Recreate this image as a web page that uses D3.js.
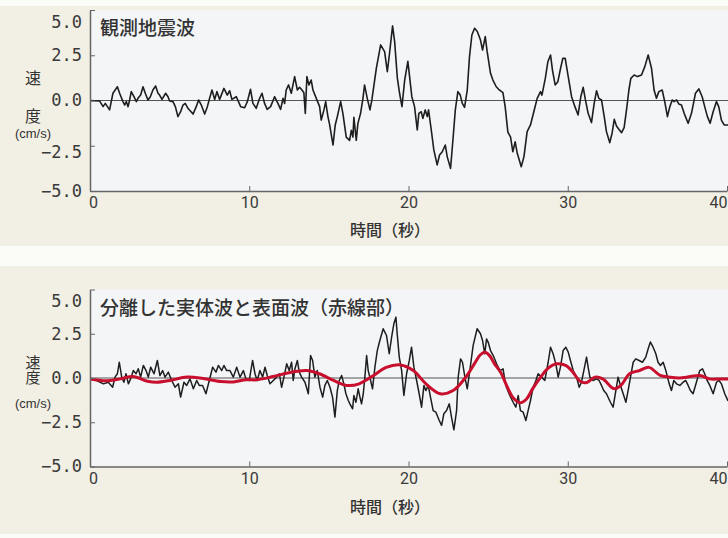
<!DOCTYPE html>
<html><head><meta charset="utf-8">
<script src="https://cdn.jsdelivr.net/npm/d3@7/dist/d3.min.js"></script>
<style>html,body{margin:0;padding:0;background:#fbfbf8}svg{display:block}</style>
</head><body>
<svg id="chart" width="728" height="538"></svg>
<script>
// ---------- data ----------
const xTicks = [0, 10, 20, 30, 40];
const yTicks = [5.0, 2.5, 0.0, -2.5, -5.0];
const titleTop = "観測地震波";
const titleBottom = "分離した実体波と表面波（赤線部）";
const xTitle = "時間（秒）";
const yTitle = "速度";
const yUnit = "(cm/s)";

// observed seismic wave (top panel)
const obsTime = [0,0.61,0.82,0.96,1.23,1.44,1.72,1.86,2.07,2.18,2.28,2.39,2.49,2.59,2.76,2.91,3.01,3.18,3.33,3.47,3.64,3.79,3.95,4.12,4.27,4.37,4.52,4.75,4.90,5.00,5.21,5.36,5.52,5.69,5.84,5.98,6.15,6.47,6.67,6.82,6.99,7.20,7.37,7.51,7.66,7.83,7.97,8.14,8.41,8.62,8.77,8.91,9.19,9.46,9.71,9.88,10.08,10.23,10.44,10.65,10.80,10.96,11.13,11.34,11.59,11.80,11.97,12.12,12.22,12.32,12.47,12.64,12.85,13.02,13.16,13.31,13.43,13.52,13.62,13.75,13.89,14.00,14.21,14.42,14.52,14.69,14.80,14.94,15.05,15.26,15.40,15.53,15.74,15.88,16.09,16.30,16.41,16.51,16.57,16.72,16.82,16.99,17.14,17.24,17.41,17.58,17.70,17.98,18.25,18.50,18.67,18.81,19.00,19.13,19.30,19.44,19.59,19.76,19.96,20.07,20.21,20.38,20.55,20.65,20.80,20.90,21.05,21.18,21.26,21.43,21.59,21.80,21.95,22.12,22.31,22.43,22.64,22.79,22.94,23.10,23.25,23.38,23.52,23.69,23.83,23.98,24.15,24.32,24.52,24.65,24.82,24.94,25.15,25.30,25.51,25.66,25.93,26.07,26.24,26.41,26.55,26.70,26.83,27.08,27.25,27.45,27.66,27.87,28.08,28.29,28.38,28.59,28.75,28.92,29.04,29.21,29.38,29.55,29.69,29.84,30.03,30.24,30.45,30.65,30.82,30.97,31.11,31.28,31.49,31.66,31.81,31.95,32.12,32.29,32.43,32.64,32.79,32.92,33.06,33.21,33.38,33.54,33.69,33.84,33.96,34.17,34.38,34.63,34.84,35.05,35.26,35.42,35.57,35.72,35.93,36.09,36.26,36.41,36.56,36.68,36.83,36.97,37.14,37.31,37.56,37.77,38.02,38.23,38.44,38.60,38.77,38.94,39.13,39.34,39.48,39.65,39.82,40.05];
const obsVel = [0,-0.03,-0.34,-0.16,-0.52,0.40,0.76,0.40,-0.06,-0.25,-0.06,-0.34,0.03,0.49,0.21,-0.06,0.12,0.30,0.76,0.40,0.03,0.21,0.58,0.80,0.40,0.30,0.06,0.40,0.21,-0.03,-0.06,-0.34,-0.89,-0.62,-0.25,-0.16,-0.43,-0.75,-0.34,0.03,-0.25,-0.75,-0.34,0.12,0.58,0.06,0.49,0.06,0.67,0.30,0.54,0.06,0.21,-0.34,-0.40,-0.06,0.62,-0.16,-0.43,0.12,0.40,-0.16,-0.49,-0.34,0.21,-0.16,-0.49,0.12,-0.16,0.58,0.86,0.40,1.32,0.58,0.73,0.58,0.43,-0.71,1.32,0.86,1.13,0.58,0.12,-0.34,-1.08,-0.52,-0.06,-0.89,-1.35,-2.46,-1.35,-0.89,-0.06,-0.71,-2.02,-2.20,-1.65,-2.02,-0.93,-2.20,-1.28,-0.71,0.12,0.86,0.12,-0.52,0.03,1.77,3.07,2.70,1.59,2.61,4.12,3.25,1.23,0.40,-0.34,1.13,2.16,1.31,0.21,-0.34,-1.63,-0.71,-0.62,-0.99,-0.52,-0.89,-0.52,-1.63,-2.73,-3.56,-3.01,-2.83,-2.46,-3.10,-3.75,-2.18,-0.52,0.49,0.30,-0.16,-0.38,0.58,2.42,3.62,3.99,3.81,3.34,2.79,3.53,2.70,1.50,1.13,0.76,0.62,0.43,-0.34,-1.75,-2.02,-2.83,-2.28,-2.92,-3.66,-3.10,-1.72,-1.35,-0.62,0.12,0.49,0.30,1.22,2.14,2.51,1.68,0.86,1.04,1.78,2.33,2.33,1.32,0.21,-0.34,-0.80,0.21,0.73,0.03,-0.71,-1.22,-0.16,0.54,0.12,0.03,-0.89,-1.72,-2.33,-1.78,-1.04,-1.41,-1.59,-1.78,-1.50,-0.52,0.58,1.22,1.41,1.32,1.41,1.87,2.51,1.78,0.58,0.12,0.49,0.58,-0.06,-0.89,-0.34,0.03,-0.06,0.03,-0.19,-0.25,-0.71,-1.26,-0.71,0.40,0.64,0.21,-0.34,-0.89,-1.26,-0.62,-0.06,-0.34,-1.08,-1.35,-1.35];

// separated body wave (bottom panel, black)
const bodyTime = [0,0.42,0.84,1.15,1.42,1.57,1.72,1.84,1.99,2.13,2.26,2.41,2.55,2.72,2.89,3.03,3.18,3.35,3.52,3.66,3.81,4.02,4.23,4.39,4.56,4.71,4.92,5.13,5.34,5.55,5.69,5.90,6.07,6.28,6.49,6.70,6.86,7.07,7.28,7.49,7.70,7.91,8.06,8.27,8.41,8.58,8.79,9.00,9.21,9.42,9.63,9.79,10.00,10.21,10.36,10.50,10.67,10.84,10.99,11.13,11.30,11.51,11.72,11.89,12.03,12.18,12.35,12.51,12.66,12.76,12.87,13.02,13.14,13.29,13.50,13.71,13.85,13.98,14.12,14.27,14.44,14.61,14.75,14.90,15.07,15.23,15.38,15.53,15.65,15.80,15.94,16.07,16.22,16.32,16.49,16.57,16.70,16.84,16.95,17.05,17.16,17.26,17.37,17.47,17.62,17.74,17.89,18.04,18.20,18.41,18.62,18.79,18.94,19.08,19.21,19.29,19.42,19.57,19.71,19.88,20.05,20.19,20.34,20.51,20.67,20.82,20.97,21.09,21.24,21.38,21.55,21.72,21.93,22.08,22.22,22.39,22.56,22.70,22.85,23.02,23.12,23.27,23.39,23.54,23.69,23.85,24.06,24.31,24.52,24.65,24.79,24.90,25.00,25.15,25.32,25.53,25.74,25.94,26.05,26.15,26.36,26.57,26.74,26.89,27.03,27.20,27.37,27.51,27.66,27.83,28.00,28.14,28.35,28.56,28.77,28.92,29.08,29.25,29.40,29.54,29.71,29.88,30.03,30.17,30.34,30.55,30.72,30.86,31.01,31.18,31.28,31.39,31.59,31.80,31.97,32.12,32.26,32.43,32.68,32.85,33.02,33.16,33.31,33.48,33.65,33.79,33.94,34.11,34.27,34.48,34.69,34.90,35.05,35.19,35.36,35.53,35.67,35.82,35.99,36.16,36.37,36.51,36.66,36.83,37.04,37.24,37.41,37.56,37.70,37.87,38.08,38.29,38.46,38.60,38.75,38.92,39.13,39.34,39.50,39.65,39.86,40.05];
const bodyVel = [-0.05,-0.14,-0.33,-0.24,-0.52,0.05,0.24,0.89,0.05,-0.24,0.24,-0.33,-0.05,0.42,0.24,0.52,0.05,0.71,0.42,0.05,0.61,0.24,0.99,0.14,0.42,0.05,0.33,-0.14,-0.52,-0.33,-1.08,-0.24,-0.42,-0.05,-0.61,-0.14,-0.42,-0.42,-0.89,-0.14,0.61,0.33,0.71,0.42,0.71,0.42,0.42,0.05,0.61,0.05,0.42,-0.05,-0.14,0.99,0.24,-0.14,0.42,0.05,0.61,0.14,-0.33,-0.14,0.05,0.24,-0.52,0.05,0.80,0.42,0.89,-0.14,0.52,0.99,0.33,0.05,-0.24,-0.89,1.27,0.99,0.05,0.42,-0.52,-1.08,-0.42,-0.14,-0.52,-1.08,-2.21,-0.71,-0.14,0.14,-0.33,-0.89,-1.27,-1.46,-1.74,-0.99,-1.37,-0.61,-1.08,-1.46,-0.89,0.05,1.27,0.42,-0.14,-0.61,0.61,1.55,2.12,2.78,2.40,1.37,2.31,3.06,3.44,2.50,1.18,0.42,-0.99,0.24,0.99,1.74,0.61,-0.14,-0.89,-1.65,-0.42,-0.71,-0.42,-1.08,-1.84,-1.93,-2.40,-2.68,-2.02,-1.84,-1.46,-2.21,-2.93,-1.84,0.05,1.08,0.89,0.05,-0.61,0.42,1.84,2.78,2.50,2.12,1.37,2.21,2.03,1.55,1.27,0.80,0.42,0.52,-0.14,-0.52,-0.99,-1.37,-1.65,-0.99,-1.84,-1.93,-2.40,-1.84,-1.27,-0.52,-0.14,0.24,0.05,-0.14,0.89,1.74,1.37,0.80,0.05,0.61,1.55,1.74,1.46,0.99,0.42,0.05,-0.52,-0.24,0.42,1.18,0.61,0.05,-0.14,-0.05,-0.14,-0.42,-0.71,-0.89,-1.37,-1.65,-0.71,0.05,-0.42,-0.89,-1.37,-0.71,0.05,0.89,1.08,0.99,0.89,1.18,1.65,2.03,1.74,1.37,0.89,0.71,0.89,0.42,-0.33,-0.71,-0.14,-0.33,-0.42,-0.24,-0.14,-0.42,-0.71,-0.89,-0.24,0.42,0.52,0.24,-0.14,-0.42,-0.89,-0.24,-0.14,-0.33,-0.89,-1.27];

// separated surface wave (bottom panel, red)
const surfTime = [0,1.0,1.9,2.7,3.6,4.2,5.0,6.1,7.1,8.2,9.0,9.8,10.5,11.5,12.5,13.6,14.4,15.3,16.1,16.9,17.8,18.6,19.5,20.3,21.1,22.0,22.8,23.6,24.2,24.5,24.8,25.1,25.4,25.8,26.2,26.6,27.0,27.4,27.8,28.3,28.7,29.3,29.9,30.3,30.8,31.2,31.7,32.2,32.9,33.3,33.9,34.5,35.1,35.8,36.4,37.0,37.7,38.3,38.9,39.6,40.05];
const surfVel = [-0.05,-0.15,-0.05,0.08,-0.18,-0.24,-0.14,0.05,-0.03,-0.20,-0.22,-0.10,-0.10,0.08,0.30,0.42,0.24,-0.14,-0.42,-0.33,0.14,0.60,0.74,0.42,-0.33,-0.89,-0.71,0.05,0.90,1.30,1.45,1.25,0.80,0.30,-0.50,-1.15,-1.40,-1.20,-0.60,0.05,0.50,0.80,0.70,0.35,-0.20,-0.25,0.05,-0.05,-0.60,-0.45,0.25,0.42,0.60,0.15,0.05,0.00,0.08,0.14,-0.05,-0.05,-0.05];

// ---------- drawing ----------
const svg = d3.select("#chart");
const W = 728, H = 538;
const plotLeft = 90, plotRight = 727;

svg.append("rect").attr("x",0).attr("y",0).attr("width",W).attr("height",H).attr("fill","#fbfbf8");
const panels = [
  {top: 10, bottom: 191, bgTop: 6, bgBottom: 246, title: titleTop,
   series: [{t: obsTime, v: obsVel, color: "#1e1e1e", width: 1.6}], xTitleY: 236,
   lbl: {top: -31, size: 16, spacing: 22, unit: 37.5}, lowLabelShift: 6},
  {top: 289.5, bottom: 466.5, bgTop: 266, bgBottom: 534, title: titleBottom,
   series: [{t: bodyTime, v: bodyVel, color: "#1e1e1e", width: 1.5}, {t: surfTime, v: surfVel, color: "#c8102e", width: 3, smooth: true}], xTitleY: 513,
   lbl: {top: -23.5, size: 15, spacing: 0, unit: 29.5}, lowLabelShift: 0}
];

const x = d3.scaleLinear().domain([0, 40]).range([plotLeft, plotRight]);

panels.forEach((p, i) => {
  const y = d3.scaleLinear().domain([-5, 5]).range([p.bottom, p.top]);
  const g = svg.append("g");
  g.append("rect").attr("x", 0).attr("y", p.bgTop).attr("width", W).attr("height", p.bgBottom - p.bgTop).attr("fill", "#f2efe4");
  g.append("rect").attr("x", plotLeft).attr("y", p.top).attr("width", W - plotLeft).attr("height", p.bottom - p.top).attr("fill", "#f4f5f7");

  // zero line
  g.append("line").attr("x1", plotLeft).attr("x2", W).attr("y1", y(0)).attr("y2", y(0))
    .attr("stroke", "#555").attr("stroke-width", 1);

  const clipId = "clip" + i;
  svg.append("clipPath").attr("id", clipId).append("rect")
    .attr("x", plotLeft).attr("y", p.top - 10).attr("width", W - plotLeft).attr("height", p.bottom - p.top + 20);

  p.series.forEach(s => {
    const pts = s.t.map((t, k) => [t, s.v[k]]);
    const line = d3.line().x(d => x(d[0])).y(d => y(d[1]))
      .curve(s.smooth ? d3.curveCatmullRom.alpha(0.5) : d3.curveLinear);
    g.append("path").datum(pts).attr("d", line).attr("fill", "none")
      .attr("stroke", s.color).attr("stroke-width", s.width)
      .attr("stroke-linejoin", "round").attr("stroke-linecap", "round")
      .attr("clip-path", `url(#${clipId})`);
  });

  // axes
  const yAxis = d3.axisLeft(y).tickValues(yTicks).tickFormat(d3.format(".1f"))
    .tickSizeInner(-5).tickSizeOuter(0).tickPadding(8);
  const ya = g.append("g").attr("transform", `translate(${plotLeft},0)`).call(yAxis);
  ya.select(".domain").attr("stroke", "#666").attr("stroke-width", 1.5);
  ya.selectAll(".tick line").attr("stroke", "#666");
  ya.selectAll(".tick text").attr("font-family", "'DejaVu Sans Mono', monospace")
    .attr("font-size", 17).attr("fill", "#3a3a3a");
  ya.selectAll(".tick").filter(d => d === 5).select("text").attr("dy", "1.0em");
  ya.selectAll(".tick").filter(d => d === -2.5).select("text").attr("transform", `translate(0,${p.lowLabelShift})`);

  const xAxis = d3.axisBottom(x).tickValues(xTicks).tickFormat(d3.format("d"))
    .tickSizeInner(-5).tickSizeOuter(0).tickPadding(6);
  const xa = g.append("g").attr("transform", `translate(0,${p.bottom})`).call(xAxis);
  xa.select(".domain").attr("stroke", "#666").attr("stroke-width", 1.5);
  xa.selectAll(".tick line").attr("stroke", "#666");
  xa.selectAll(".tick text").attr("font-family", "'Liberation Sans Narrow', 'Roboto', sans-serif")
    .attr("font-size", 16).attr("fill", "#3a3a3a");
  xa.selectAll(".tick").filter(d => d === 40).select("text").attr("text-anchor", "end");
  xa.selectAll(".tick").filter(d => d === 0).select("text").attr("dx", 3);

  // titles
  g.append("text").attr("x", 100).attr("y", p.top + 25).text(p.title)
    .attr("font-family", "'Noto Sans CJK JP', sans-serif").attr("font-size", 19)
    .attr("font-weight", 500).attr("fill", "#333");
  g.append("text").attr("x", 390).attr("y", p.xTitleY).attr("text-anchor", "middle").text(xTitle)
    .attr("font-family", "'Noto Sans CJK JP', sans-serif").attr("font-size", 16)
    .attr("font-weight", 500).attr("fill", "#333");

  // y-axis label: vertical text, unit below
  const y0 = y(0);
  g.append("text").attr("x", 33).attr("y", y0 + p.lbl.top)
    .style("writing-mode", "vertical-rl").style("text-orientation", "upright")
    .style("letter-spacing", p.lbl.spacing + "px")
    .attr("font-family", "'Noto Sans CJK JP', sans-serif").attr("font-size", p.lbl.size)
    .attr("fill", "#333").text(yTitle);
  g.append("text").attr("x", 33).attr("y", y0 + p.lbl.unit).attr("text-anchor", "middle")
    .attr("font-family", "'Liberation Sans', 'DejaVu Sans', sans-serif").attr("font-size", 13)
    .attr("fill", "#333").text(yUnit);
});
</script>
</body></html>
